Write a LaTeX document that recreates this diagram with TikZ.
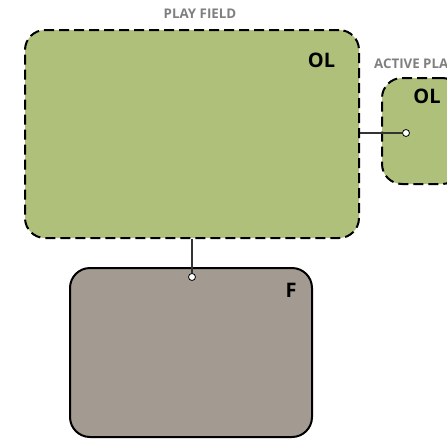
\documentclass[tikz,border=0pt]{standalone}
\usepackage{fontspec}
\setmainfont{Open Sans}
\definecolor{fieldgreen}{HTML}{AFC07A}
\definecolor{framegray}{HTML}{A39B91}
\definecolor{labelgray}{HTML}{7F7F7F}
\definecolor{pinline}{HTML}{333333}
\begin{document}
\begin{tikzpicture}[x=1pt, y=-1pt, every node/.style={font=\bfseries}]
\tikzset{layerbox/.style={draw,line width=2pt,fill=fieldgreen,rounded corners=20pt,dash pattern=on 10pt off 5pt},
  framebox/.style={draw,line width=2pt,fill=framegray,rounded corners=20pt},
  boxtag/.style={font=\fontsize{20}{22}\bfseries\selectfont,inner sep=0pt},
  boxtitle/.style={font=\fontsize{13.3}{15}\bfseries\selectfont,text=labelgray,inner sep=0pt},
  pin/.style={circle,draw,fill=white,line width=0.8pt,inner sep=0pt,minimum size=7pt},
  pinwire/.style={line width=1.6pt,draw=pinline}}
\useasboundingbox (0,0) rectangle (447,439);
\clip (0,0) rectangle (447,439);
\node[layerbox,minimum width=334pt,minimum height=208pt] (field) at (192,134) {};
\node[layerbox,minimum width=80pt,minimum height=106pt] (active) at (422,131) {};
\node[framebox,minimum width=242pt,minimum height=169pt] (frame) at (191,352.5) {};
% titles and tags
\node[boxtitle] (fieldtitle) at (200,14) {PLAY FIELD};
\node[boxtitle,anchor=west] (activetitle) at (374,63.5) {ACTIVE PLAYER};
\node[boxtag] (fieldtag) at (321.5,60) {OL};
\node[boxtag] (activetag) at (427,96) {OL};
\node[boxtag] (frametag) at (291,290.5) {F};
% connectors
\node[pin] (activepin) at (406,133) {};
\node[pin] (framepin) at (192,277) {};
\draw[pinwire] (field.east |- activepin) -- (activepin);
\draw[pinwire] (field.south -| framepin) -- (framepin);
\end{tikzpicture}
\end{document}
